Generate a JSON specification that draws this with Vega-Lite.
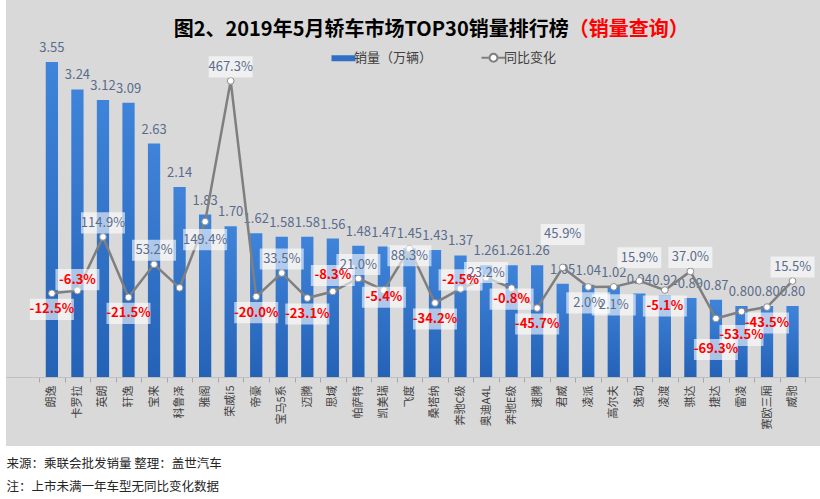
{
  "$schema": "https://vega.github.io/schema/vega-lite/v6.json",
  "width": 817,
  "height": 446,
  "padding": 0,
  "background": "#ffffff",
  "config": {
    "view": {"fill": "#d9d9d9", "stroke": null},
    "font": "Noto Sans CJK SC"
  },
  "data": {
    "values": [
      {"name": "朗逸", "sales": 3.55, "yoy": -12.5, "label": "-12.5%"},
      {"name": "卡罗拉", "sales": 3.24, "yoy": -6.3, "label": "-6.3%"},
      {"name": "英朗", "sales": 3.12, "yoy": 114.9, "label": "114.9%"},
      {"name": "轩逸", "sales": 3.09, "yoy": -21.5, "label": "-21.5%"},
      {"name": "宝来", "sales": 2.63, "yoy": 53.2, "label": "53.2%"},
      {"name": "科鲁泽", "sales": 2.14, "yoy": 0, "label": null},
      {"name": "雅阁", "sales": 1.83, "yoy": 149.4, "label": "149.4%"},
      {"name": "荣威i5", "sales": 1.70, "yoy": 467.3, "label": "467.3%"},
      {"name": "帝豪", "sales": 1.62, "yoy": -20.0, "label": "-20.0%"},
      {"name": "宝马5系", "sales": 1.58, "yoy": 33.5, "label": "33.5%"},
      {"name": "迈腾", "sales": 1.58, "yoy": -23.1, "label": "-23.1%"},
      {"name": "思域", "sales": 1.56, "yoy": -8.3, "label": "-8.3%"},
      {"name": "帕萨特", "sales": 1.48, "yoy": 21.0, "label": "21.0%"},
      {"name": "凯美瑞", "sales": 1.47, "yoy": -5.4, "label": "-5.4%"},
      {"name": "飞度", "sales": 1.45, "yoy": 88.3, "label": "88.3%"},
      {"name": "桑塔纳", "sales": 1.43, "yoy": -34.2, "label": "-34.2%"},
      {"name": "奔驰C级", "sales": 1.37, "yoy": -2.5, "label": "-2.5%"},
      {"name": "奥迪A4L", "sales": 1.26, "yoy": 23.2, "label": "23.2%"},
      {"name": "奔驰E级", "sales": 1.26, "yoy": -0.8, "label": "-0.8%"},
      {"name": "速腾", "sales": 1.26, "yoy": -45.7, "label": "-45.7%"},
      {"name": "君威", "sales": 1.05, "yoy": 45.9, "label": "45.9%"},
      {"name": "凌派", "sales": 1.04, "yoy": 2.0, "label": "2.0%"},
      {"name": "高尔夫", "sales": 1.02, "yoy": 2.1, "label": "2.1%"},
      {"name": "逸动", "sales": 0.94, "yoy": 15.9, "label": "15.9%"},
      {"name": "凌渡", "sales": 0.92, "yoy": -5.1, "label": "-5.1%"},
      {"name": "骐达", "sales": 0.89, "yoy": 37.0, "label": "37.0%"},
      {"name": "捷达", "sales": 0.87, "yoy": -69.3, "label": "-69.3%"},
      {"name": "雷凌", "sales": 0.80, "yoy": -53.5, "label": "-53.5%"},
      {"name": "赛欧三厢", "sales": 0.80, "yoy": -43.5, "label": "-43.5%"},
      {"name": "威驰", "sales": 0.80, "yoy": 15.5, "label": "15.5%"}
    ]
  },
  "resolve": {"scale": {"y": "independent"}},
  "layer": [
    {
      "layer": [
        {
          "mark": {
            "type": "bar",
            "width": {"band": 0.48},
            "color": {
              "gradient": "linear",
              "x1": 0, "y1": 0, "x2": 0, "y2": 1,
              "stops": [
                {"offset": 0, "color": "#3f84da"},
                {"offset": 1, "color": "#2462b6"}
              ]
            }
          },
          "encoding": {
            "x": {
              "field": "name",
              "type": "nominal",
              "sort": null,
              "scale": {"paddingInner": 0, "paddingOuter": 0.9945, "align": 0.652},
              "axis": {
                "offset": -69,
                "labelAngle": 270,
                "labelFontSize": 11,
                "labelColor": "#404040",
                "labelPadding": 3,
                "labelOverlap": false,
                "tickBand": "extent",
                "tickSize": 5,
                "tickColor": "#a6a6a6",
                "domainColor": "#bfbfbf",
                "title": ["来源：乘联会批发销量  整理：盖世汽车", "注：上市未满一年车型无同比变化数据"],
                "titleAnchor": "start",
                "titleAlign": "left",
                "titleX": 0,
                "titleY": 80,
                "titleBaseline": "top",
                "titleFontSize": 12.5,
                "titleFontWeight": "normal",
                "titleColor": "#262626",
                "titleLineHeight": 23
              }
            },
            "y": {
              "field": "sales",
              "type": "quantitative",
              "scale": {"domain": [-0.777, 4.248], "nice": false, "zero": false},
              "axis": null
            }
          }
        },
        {
          "mark": {"type": "text", "baseline": "alphabetic", "dy": -10, "fontSize": 13, "color": "#5a6c8c"},
          "encoding": {
            "x": {"field": "name", "type": "nominal", "sort": null},
            "y": {"field": "sales", "type": "quantitative"},
            "text": {"field": "sales", "type": "quantitative", "format": ".2f"}
          }
        },
        {
          "data": {"values": [{"t": "图2、2019年5月轿车市场TOP30销量排行榜"}]},
          "mark": {"type": "text", "align": "right", "baseline": "middle", "dx": 6, "fontSize": 20, "fontWeight": "bold", "color": "#000000"},
          "encoding": {
            "x": {"datum": "君威", "type": "nominal"},
            "y": {"datum": 3.91, "type": "quantitative"},
            "text": {"field": "t", "type": "nominal"}
          }
        },
        {
          "data": {"values": [{"t": "（销量查询）"}]},
          "mark": {"type": "text", "align": "left", "baseline": "middle", "dx": 6, "fontSize": 20, "fontWeight": "bold", "color": "#ff0000"},
          "encoding": {
            "x": {"datum": "君威", "type": "nominal"},
            "y": {"datum": 3.91, "type": "quantitative"},
            "text": {"field": "t", "type": "nominal"}
          }
        }
      ]
    },
    {
      "encoding": {
        "x": {"field": "name", "type": "nominal", "sort": null},
        "y": {
          "field": "yoy",
          "type": "quantitative",
          "scale": {"domain": [-357.3, 650], "nice": false, "zero": false},
          "axis": null
        }
      },
      "layer": [
        {
          "mark": {"type": "line", "strokeWidth": 2.5},
          "encoding": {
            "color": {
              "datum": "同比变化",
              "type": "nominal",
              "scale": {"domain": ["销量（万辆）", "同比变化"], "range": ["#2f6fc4", "#7f7f7f"]},
              "legend": {
                "orient": "none",
                "legendX": 331,
                "legendY": 51,
                "direction": "horizontal",
                "title": null,
                "labelFontSize": 13,
                "labelColor": "#404040",
                "labelOffset": 4,
                "symbolSize": 576,
                "columnPadding": 44,
                "encode": {
                  "symbols": {
                    "update": {
                      "shape": {"signal": "datum.value == '同比变化' ? 'M-1,0H-0.33M0.33,0H1M0.33,0A0.33,0.33,0,1,1,-0.33,0A0.33,0.33,0,1,1,0.33,0' : 'M-1,-0.25H1V0.25H-1Z'"},
                      "fill": {"signal": "datum.value == '同比变化' ? '#ffffff' : '#2f6fc4'"},
                      "stroke": {"signal": "datum.value == '同比变化' ? '#7f7f7f' : '#2f6fc4'"},
                      "strokeWidth": {"signal": "datum.value == '同比变化' ? 2 : 0"},
                      "opacity": {"value": 1}
                    }
                  }
                }
              }
            }
          }
        },
        {
          "mark": {"type": "point", "filled": true, "fill": "#ffffff", "stroke": "#8c8c8c", "strokeWidth": 1, "size": 45, "opacity": 1}
        },
        {
          "transform": [{"filter": "datum.label != null"}],
          "mark": {
            "type": "point",
            "shape": "M-1,-0.48H1V0.48H-1Z",
            "size": 1936,
            "filled": true,
            "fill": "#ffffff",
            "fillOpacity": 0.6,
            "strokeWidth": 0,
            "yOffset": {"expr": "datum.name == '君威' ? -33 : datum.name == '逸动' ? -23 : datum.name == '奥迪A4L' ? -5 : datum.name == '奔驰C级' ? -9 : datum.name == '思域' ? -16 : datum.name == '卡罗拉' ? -11 : datum.name == '飞度' ? 7 : datum.name == '凯美瑞' ? 7 : datum.name == '奔驰E级' ? 11 : datum.name == '捷达' ? 31 : datum.name == '雷凌' ? 24 : datum.name == '雅阁' ? 18 : datum.name == '凌派' ? 16 : datum.name == '高尔夫' ? 18 : datum.yoy >= 0 ? -14 : 16"}
          }
        },
        {
          "transform": [{"filter": "datum.label != null"}],
          "mark": {
            "type": "text",
            "baseline": "middle",
            "fontSize": 13,
            "fontWeight": {"expr": "datum.yoy < 0 ? 'bold' : 'normal'"},
            "yOffset": {"expr": "datum.name == '君威' ? -33 : datum.name == '逸动' ? -23 : datum.name == '奥迪A4L' ? -5 : datum.name == '奔驰C级' ? -9 : datum.name == '思域' ? -16 : datum.name == '卡罗拉' ? -11 : datum.name == '飞度' ? 7 : datum.name == '凯美瑞' ? 7 : datum.name == '奔驰E级' ? 11 : datum.name == '捷达' ? 31 : datum.name == '雷凌' ? 24 : datum.name == '雅阁' ? 18 : datum.name == '凌派' ? 16 : datum.name == '高尔夫' ? 18 : datum.yoy >= 0 ? -14 : 16"}
          },
          "encoding": {
            "text": {"field": "label", "type": "nominal"},
            "color": {
              "condition": {"test": "datum.yoy < 0", "value": "#ff0000"},
              "value": "#5a6c8c"
            }
          }
        }
      ]
    }
  ]
}
